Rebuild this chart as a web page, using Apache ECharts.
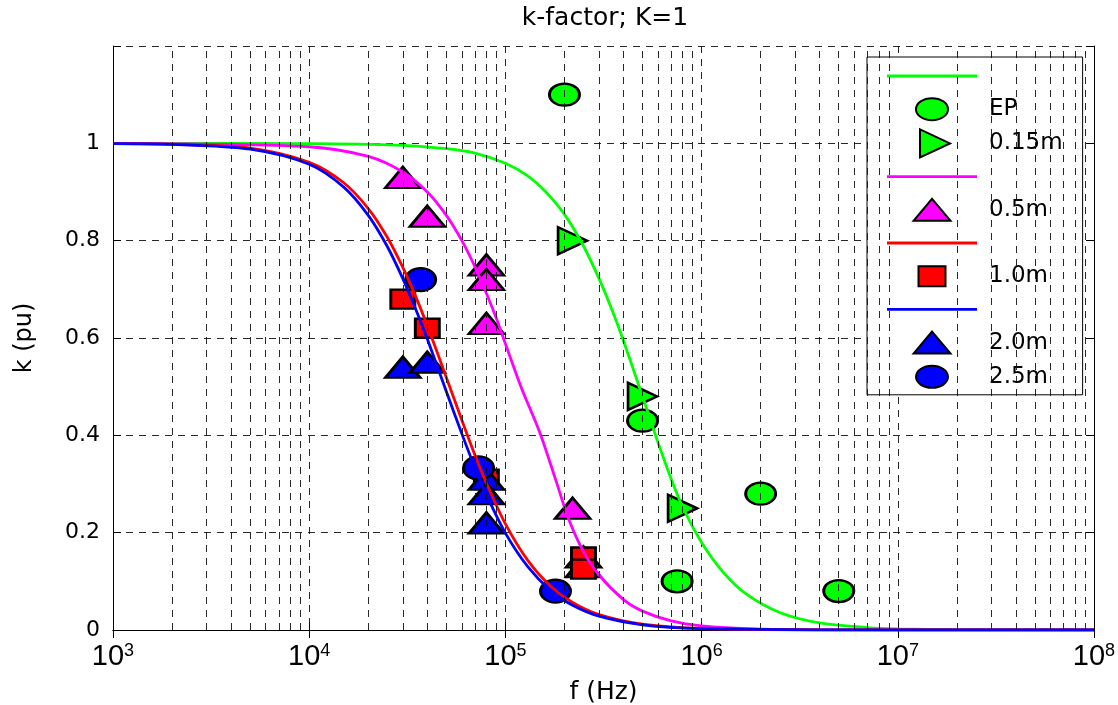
<!DOCTYPE html>
<html><head><meta charset="utf-8">
<script src="https://cdn.jsdelivr.net/npm/echarts@6/dist/echarts.min.js"></script>
<style>html,body{margin:0;padding:0;background:#fff}#c{width:1118px;height:705px}</style>
</head><body><div id="c"></div>
<script>
// ---- data ----
const chartTitle = 'k-factor; K=1';
const xName = 'f (Hz)';
const yName = 'k (pu)';
const yTickLabels = [0, 0.2, 0.4, 0.6, 0.8, 1];

// curves (frequency in Hz, k in pu)
const fGreen = [1e3, 1e4, 3e4, 5e4, 7e4, 1e5, 1.3e5, 1.6e5, 2e5, 2.5e5, 3e5, 3.5e5, 4e5, 4.5e5, 5e5, 5.5e5, 6e5, 7e5, 8e5, 1e6, 1.3e6, 1.7e6, 2.5e6, 4e6, 7e6, 1e7, 2e7, 1e8];
const kGreen = [1.0, 0.9996, 0.996, 0.989, 0.980, 0.959, 0.933, 0.901, 0.854, 0.789, 0.722, 0.657, 0.594, 0.534, 0.48, 0.43, 0.385, 0.31, 0.253, 0.18, 0.117, 0.073, 0.036, 0.0144, 0.005, 0.0023, 0.0006, 0];

const fMag = [1e3, 1e4, 2e4, 3e4, 4e4, 5e4, 6e4, 7e4, 8e4, 9e4, 1e5, 1.2e5, 1.5e5, 1.8e5, 2.1e5, 2.5e5, 3e5, 4e5, 5e5, 7e5, 1e6, 2e6, 1e7, 1e8];
const kMag = [1.0, 0.993, 0.973, 0.941, 0.900, 0.852, 0.800, 0.746, 0.692, 0.640, 0.588, 0.5, 0.405, 0.31, 0.228, 0.161, 0.113, 0.0625, 0.0388, 0.0186, 0.0084, 0.0018, 0, 0];

const fRed = [1e3, 2e3, 5e3, 1e4, 1.5e4, 2e4, 2.5e4, 3e4, 3.5e4, 4e4, 5e4, 6e4, 7e4, 8e4, 1e5, 1.3e5, 1.7e5, 2.2e5, 3e5, 5e5, 1e6, 1e7, 1e8];
const kRed = [0.9995, 0.998, 0.990, 0.961, 0.919, 0.866, 0.807, 0.745, 0.684, 0.625, 0.519, 0.431, 0.359, 0.302, 0.218, 0.143, 0.090, 0.0566, 0.0317, 0.012, 0.0031, 0, 0];

const fBlue = [1e3, 2e3, 5e3, 1e4, 1.5e4, 2e4, 2.5e4, 3e4, 3.5e4, 4e4, 5e4, 6e4, 7e4, 8e4, 1e5, 1.3e5, 1.7e5, 2.2e5, 3e5, 5e5, 1e6, 1e7, 1e8];
const kBlue = [0.9995, 0.998, 0.988, 0.957, 0.910, 0.852, 0.788, 0.722, 0.658, 0.598, 0.490, 0.403, 0.333, 0.278, 0.199, 0.130, 0.081, 0.0508, 0.0284, 0.0107, 0.0028, 0, 0];

// measured points
const epF = [2e5, 5e5, 7.5e5, 2e6, 5e6];
const epK = [1.1, 0.43, 0.1, 0.28, 0.08];
const m015F = [2.2e5, 5e5, 8e5];
const m015K = [0.8, 0.48, 0.25];
const m05F = [3e4, 4e4, 8e4, 8e4, 8e4, 2.2e5, 2.5e5, 2.5e5];
const m05K = [0.93, 0.85, 0.75, 0.72, 0.63, 0.25, 0.15, 0.13];
const m10F = [3e4, 4e4, 8e4, 2.5e5, 2.5e5];
const m10K = [0.68, 0.62, 0.31, 0.15, 0.125];
const m20F = [3e4, 4e4, 8e4, 8e4, 8e4];
const m20K = [0.54, 0.55, 0.31, 0.28, 0.22];
const m25F = [3.7e4, 7.3e4, 1.8e5];
const m25K = [0.72, 0.333, 0.08];

// ---- build ----
const zip = (a, b) => a.map((v, i) => [v, b[i]]);
const minorX = [];
for (let d = 3; d < 8; d++) for (let m = 2; m <= 9; m++) minorX.push(m * Math.pow(10, d));

const GREEN = '#00ff00', MAG = '#ff00ff', RED = '#ff0000', BLUE = '#0000ff';
const gridLine = { type: [7, 6], color: '#111', width: 0.9 };
const FONT = 'DejaVu Sans';

const F = 'M0,0 M90,28 ';
const icons = {
  line: 'path://' + F + 'M0,12.6 L90,12.6 L90,15.4 L0,15.4 Z',
  ellipse: 'path://' + F + 'M29,14 A16,11 0 1,0 61,14 A16,11 0 1,0 29,14 Z',
  rtri: 'path://' + F + 'M33,0 L63,14 L33,28 Z',
  tri: 'path://' + F + 'M26.5,25 L45,3 L63.5,25 Z',
  square: 'path://' + F + 'M31.5,4 L58.5,4 L58.5,24 L31.5,24 Z'
};

function curve(name, f, k, color) {
  return { type: 'line', name, data: zip(f, k), symbol: 'none', showSymbol: false,
    smooth: 0.3, z: 4,
    lineStyle: { color, width: 2.8 }, itemStyle: { color, borderWidth: 0 },
    emphasis: { disabled: true } };
}
function marks(name, f, k, color, symbol, size, rot) {
  return { type: 'scatter', name, data: zip(f, k), symbol, symbolSize: size, symbolRotate: rot || 0, z: 3,
    itemStyle: { color, borderColor: '#000', borderWidth: 2.6, opacity: 1 },
    emphasis: { disabled: true } };
}

const option = {
  animation: false,
  backgroundColor: '#fff',
  textStyle: { fontFamily: FONT, color: '#000' },
  title: { text: chartTitle, left: 600, top: 1, textAlign: 'center',
    textStyle: { fontFamily: FONT, fontSize: 25, fontWeight: 'normal', color: '#000' } },
  grid: { left: 113, right: 24, top: 46, bottom: 75, show: false, outerBoundsMode: 'none', containLabel: false },
  legend: {
    orient: 'vertical', left: 867, top: 57, padding: [5, 20, 3, 19],
    itemWidth: 90, itemHeight: 28, itemGap: 4.2,
    backgroundColor: '#fff', borderColor: '#000', borderWidth: 1,
    selectedMode: false, symbolRotate: 0,
    textStyle: { fontFamily: FONT, fontSize: 23, color: '#000', padding: [0, 0, 0, 7] },
    formatter: n => n.indexOf('line') === 0 ? '' : n,
    data: [
      { name: 'line-g', icon: icons.line },
      { name: 'EP', icon: icons.ellipse },
      { name: '0.15m', icon: icons.rtri },
      { name: 'line-m', icon: icons.line },
      { name: '0.5m', icon: icons.tri },
      { name: 'line-r', icon: icons.line },
      { name: '1.0m', icon: icons.square },
      { name: 'line-b', icon: icons.line },
      { name: '2.0m', icon: icons.tri },
      { name: '2.5m', icon: icons.ellipse }
    ]
  },
  xAxis: [{
    type: 'log', logBase: 10, min: 1e3, max: 1e8, position: 'bottom',
    axisLine: { show: true, lineStyle: { color: '#000', width: 1 } },
    axisTick: { show: true, inside: true, length: 8, lineStyle: { color: '#000' } },
    splitLine: { show: true, lineStyle: gridLine },
    axisLabel: {
      margin: 12, color: '#000',
      formatter: v => '{b|10}{s|' + Math.round(Math.log10(v)) + '}',
      rich: {
        b: { fontFamily: 'Liberation Sans Narrow, Liberation Sans', fontSize: 29, color: '#000', lineHeight: 30 },
        s: { fontFamily: 'Liberation Sans Narrow, Liberation Sans', fontSize: 18, color: '#000', verticalAlign: 'top', lineHeight: 16 }
      }
    },
    name: xName, nameLocation: 'middle', nameGap: 50,
    nameTextStyle: { fontFamily: FONT, fontSize: 25, color: '#000' }
  }, {
    type: 'log', logBase: 10, min: 1e3, max: 1e8, position: 'top',
    axisLine: { show: true, lineStyle: { color: '#000', width: 1 } },
    axisTick: { show: true, inside: true, length: 8, lineStyle: { color: '#000' } },
    axisLabel: { show: false }, splitLine: { show: false }
  }],
  yAxis: [{
    type: 'value', min: 0, max: 1.2, interval: 0.2, position: 'left',
    axisLine: { show: true, lineStyle: { color: '#000', width: 1 } },
    axisTick: { show: true, inside: true, length: 8, lineStyle: { color: '#000' } },
    splitLine: { show: true, lineStyle: gridLine },
    axisLabel: { margin: 13, color: '#000', fontFamily: FONT, fontSize: 22,
      formatter: v => { const t = yTickLabels.find(x => Math.abs(x - v) < 1e-6); return t === undefined ? '' : String(t); } },
    name: yName, nameLocation: 'middle', nameGap: 76, nameRotate: 90,
    nameTextStyle: { fontFamily: FONT, fontSize: 24, color: '#000' }
  }, {
    type: 'value', min: 0, max: 1.2, interval: 0.2, position: 'right',
    axisLine: { show: true, lineStyle: { color: '#000', width: 1 } },
    axisTick: { show: true, inside: true, length: 8, lineStyle: { color: '#000' } },
    axisLabel: { show: false }, splitLine: { show: false }
  }],
  series: [
    { type: 'line', name: 'minor-grid', data: [], z: 1, silent: true,
      markLine: { silent: true, symbol: ['none', 'none'], label: { show: false }, animation: false,
        lineStyle: gridLine, emphasis: { disabled: true },
        data: minorX.map(v => ({ xAxis: v })) } },
    marks('EP', epF, epK, GREEN, 'circle', [30, 22]),
    marks('0.15m', m015F, m015K, GREEN, 'triangle', [27, 29], -90),
    marks('0.5m', m05F, m05K, MAG, 'triangle', [35, 21]),
    marks('1.0m', m10F, m10K, RED, 'rect', [24, 19]),
    marks('2.0m', m20F, m20K, BLUE, 'triangle', [35, 21]),
    marks('2.5m', m25F, m25K, BLUE, 'circle', [30, 23]),
    curve('line-g', fGreen, kGreen, GREEN),
    curve('line-m', fMag, kMag, MAG),
    curve('line-r', fRed, kRed, RED),
    curve('line-b', fBlue, kBlue, BLUE)
  ]
};
const chart = echarts.init(document.getElementById('c'), null, { renderer: 'canvas' });
chart.setOption(option);
</script>
</body></html>
